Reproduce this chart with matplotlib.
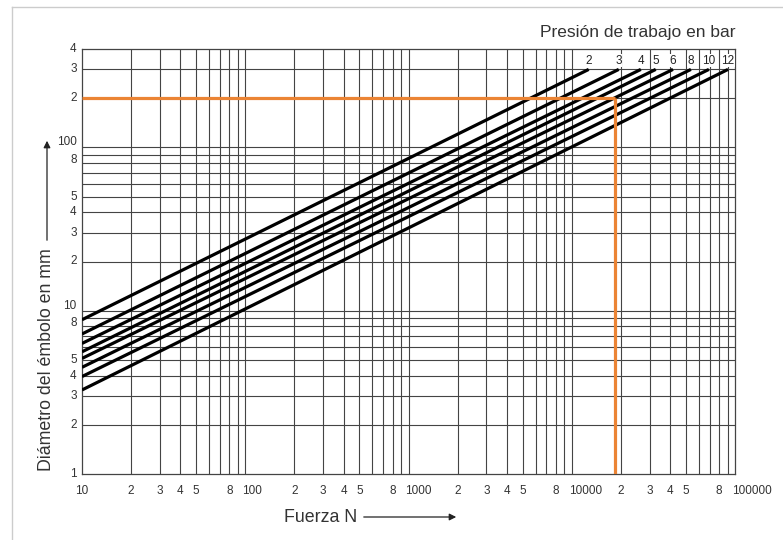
import matplotlib.pyplot as plt
import matplotlib.transforms as mtransforms
from matplotlib.lines import Line2D

plt.rcParams['font.family'] = ['Liberation Sans', 'DejaVu Sans']

# presion de trabajo (bar) y extremos de cada recta
presiones = [2, 3, 4, 5, 6, 8, 10, 12]
diam_en_10N = [8.8, 7.2, 6.3, 5.6, 5.1, 4.5, 3.95, 3.27]     # mm con F = 10 N
fuerza_fin = [12700, 19400, 26500, 32700, 41700, 53700, 69200, 90600]  # N con d = 300 mm
diam_fin = 300

# ejemplo marcado en naranja
ejemplo_d = 200
ejemplo_F = 18400

x_ticks = [10, 20, 30, 40, 50, 80, 100, 200, 300, 400, 500, 800, 1000,
           2000, 3000, 4000, 5000, 8000, 10000, 20000, 30000, 40000, 50000,
           80000, 100000]
x_labels = ['10', '2', '3', '4', '5', '8', '100', '2', '3', '4', '5', '8', '1000',
            '2', '3', '4', '5', '8', '10000', '2', '3', '4', '5', '8', '100000']
y_ticks = [1, 2, 3, 4, 5, 8, 10, 20, 30, 40, 50, 80, 100, 200, 300, 400]
y_labels = ['1', '2', '3', '4', '5', '8', '10', '2', '3', '4', '5', '8', '100',
            '2', '3', '4']

W, H = 783, 540
fig = plt.figure(figsize=(W / 100, H / 100), dpi=100)
ax = fig.add_axes([82 / W, 1 - 474 / H, (735 - 82) / W, (474 - 49) / H])
ax.set_xscale('log')
ax.set_yscale('log')
ax.set_xlim(10, 100000)
ax.set_ylim(1, 400)

grid_col = '#444444'
# rejilla logaritmica completa
for dec in [10, 100, 1000, 10000]:
    for m in range(1, 10):
        v = dec * m
        if 10 < v < 100000:
            ax.axvline(v, color=grid_col, lw=0.8, zorder=1)
for dec in [1, 10, 100]:
    for m in range(1, 10):
        v = dec * m
        if 1 < v < 400:
            ax.axhline(v, color=grid_col, lw=0.8, zorder=1)

# rectas de presion
for p, d0, f1 in zip(presiones, diam_en_10N, fuerza_fin):
    ax.plot([10, f1], [d0, diam_fin], color='black', lw=2.3,
            solid_capstyle='butt', zorder=3)
    ax.text(f1, 340, str(p), ha='center', va='center', fontsize=8.5,
            color='#222222', zorder=4,
            bbox=dict(facecolor='white', edgecolor='none', pad=0.3))

# ejemplo
orange = '#EB8434'
ax.plot([10, ejemplo_F], [ejemplo_d, ejemplo_d], color=orange, lw=2.3,
        solid_capstyle='butt', zorder=5)
ax.plot([ejemplo_F, ejemplo_F], [ejemplo_d, 1], color=orange, lw=2.3,
        solid_capstyle='butt', zorder=5)

# etiquetas de los ejes (dibujadas a mano para imitar su colocacion)
ax.set_xticks([])
ax.set_yticks([])
ax.minorticks_off()
lab_col = '#333333'
xtr = mtransforms.blended_transform_factory(ax.transData, ax.transAxes)
ytr = mtransforms.blended_transform_factory(ax.transAxes, ax.transData)
for v, t in zip(x_ticks, x_labels):
    if len(t) >= 3:
        tr = xtr + mtransforms.ScaledTranslation(-3 / 100, 0, fig.dpi_scale_trans)
        ha = 'left'
    else:
        tr = xtr
        ha = 'center'
    ax.text(v, -0.04, t, transform=tr, ha=ha, va='center', fontsize=8.5,
            color=lab_col, clip_on=False)
for v, t in zip(y_ticks, y_labels):
    dy = 0
    if t in ('10', '100'):
        dy = 5
    elif t == '8':
        dy = 3
    tr = ytr + mtransforms.ScaledTranslation(0, dy / 100, fig.dpi_scale_trans)
    ax.text(-0.008, v, t, transform=tr, ha='right', va='center', fontsize=8.5,
            color=lab_col, clip_on=False)

for s in ax.spines.values():
    s.set_color(grid_col)
    s.set_linewidth(0.9)

fig.text(735 / W, 1 - 33 / H, 'Presión de trabajo en bar', ha='right',
         va='center', fontsize=12.5, color='#333333')

# eje y: texto con flecha
fig.text(47 / W, 1 - 360 / H, 'Diámetro del émbolo en mm', rotation=90,
         ha='center', va='center', fontsize=12.8, color='#333333')
ax.annotate('', xy=(47 / W, 1 - 138 / H), xytext=(47 / W, 1 - 243 / H),
            xycoords='figure fraction', textcoords='figure fraction',
            arrowprops=dict(arrowstyle='-|>', color='#222222', lw=0.9,
                            mutation_scale=10))

# eje x: texto con flecha
fig.text(284 / W, 1 - 517 / H, 'Fuerza N', ha='left', va='center',
         fontsize=12.8, color='#333333')
ax.annotate('', xy=(459 / W, 1 - 517 / H), xytext=(361 / W, 1 - 517 / H),
            xycoords='figure fraction', textcoords='figure fraction',
            arrowprops=dict(arrowstyle='-|>', color='#222222', lw=0.9,
                            mutation_scale=10))

# marco gris de la pagina
fig.add_artist(Line2D([12 / W, 12 / W], [0, 1 - 7 / H], color='#cccccc', lw=1))
fig.add_artist(Line2D([12 / W, 1], [1 - 7 / H, 1 - 7 / H], color='#cccccc', lw=1))

fig.savefig('out.png', dpi=100)
